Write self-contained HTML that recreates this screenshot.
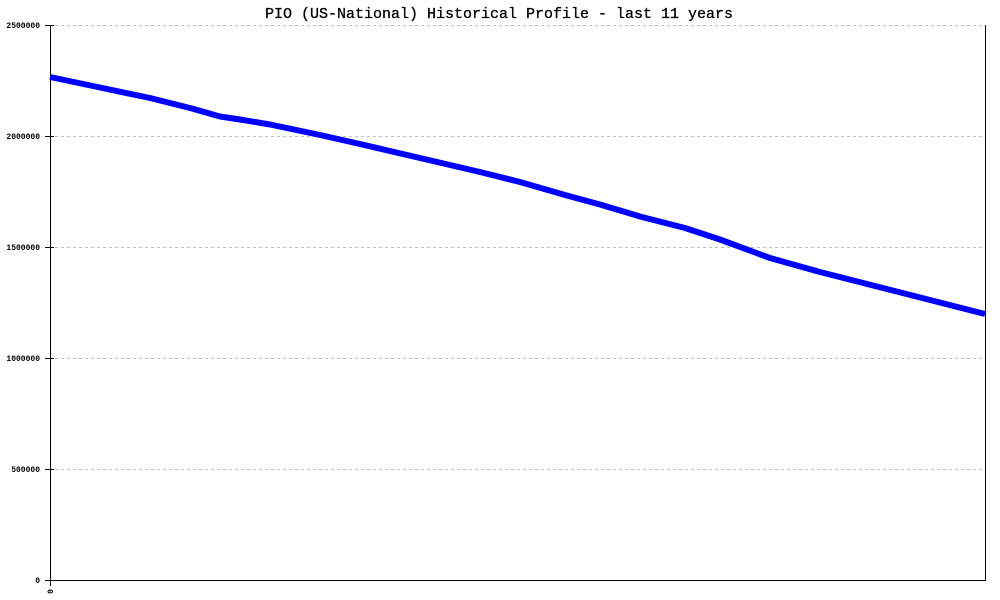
<!DOCTYPE html>
<html><head><meta charset="utf-8"><style>
html,body{margin:0;padding:0;background:#fff;}
svg{display:block;}
</style></head><body>
<svg width="1000" height="600" viewBox="0 0 1000 600" xmlns="http://www.w3.org/2000/svg">
<rect width="1000" height="600" fill="#fff"/>
<text x="499" y="18" text-anchor="middle" font-family="Liberation Mono, monospace" font-size="15" fill="#000" stroke="#000" stroke-width="0.3">PIO (US-National) Historical Profile - last 11 years</text>
<g stroke="#c0c0c0" stroke-width="1" stroke-dasharray="3,3">
<line x1="55" y1="25.5" x2="985" y2="25.5"/>
<line x1="55" y1="136.5" x2="985" y2="136.5"/>
<line x1="55" y1="247.5" x2="985" y2="247.5"/>
<line x1="55" y1="358.5" x2="985" y2="358.5"/>
<line x1="55" y1="469.5" x2="985" y2="469.5"/>
</g>
<g stroke="#000" stroke-width="1">
<line x1="50.5" y1="25" x2="50.5" y2="586"/>
<line x1="985.5" y1="25" x2="985.5" y2="580"/>
<line x1="45" y1="580.5" x2="986" y2="580.5"/>
<line x1="45" y1="25.5" x2="54" y2="25.5"/>
<line x1="45" y1="136.5" x2="54" y2="136.5"/>
<line x1="45" y1="247.5" x2="54" y2="247.5"/>
<line x1="45" y1="358.5" x2="54" y2="358.5"/>
<line x1="45" y1="469.5" x2="54" y2="469.5"/>
</g>
<g font-family="Liberation Mono, monospace" font-size="8" font-weight="bold" fill="#000" text-anchor="end">
<text x="40" y="28">2500000</text>
<text x="40" y="139">2000000</text>
<text x="40" y="250">1500000</text>
<text x="40" y="361">1000000</text>
<text x="40" y="472">500000</text>
<text x="40" y="583">0</text>
</g>
<text x="0" y="0" transform="translate(53,589) rotate(-90)" text-anchor="end" font-family="Liberation Mono, monospace" font-size="8" font-weight="bold" fill="#000">0</text>
<polyline fill="none" stroke="#0000ff" stroke-width="6" stroke-linejoin="round" points="50,77 100,87.5 150,98 190,108 220,116.5 240,119.5 270,124.5 320,135 360,144 420,158 480,172 520,182 565,195 600,204.5 640,216.5 685,228 720,239.5 770,258 820,272 985,314"/>
</svg>
</body></html>
